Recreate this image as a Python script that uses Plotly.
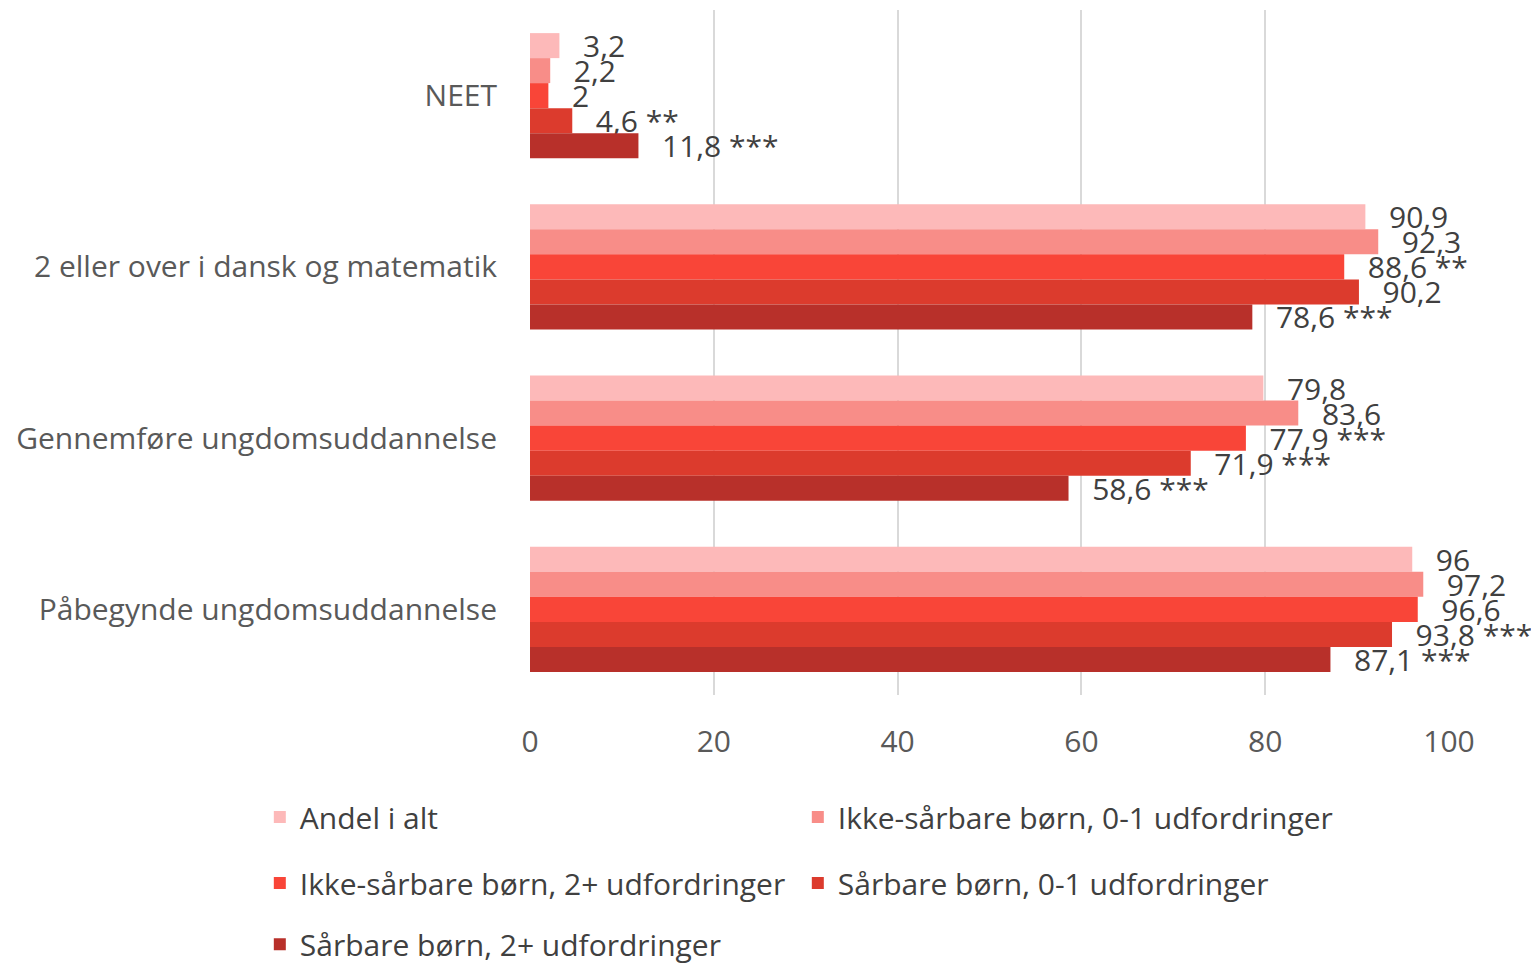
import plotly.graph_objects as go

categories = ["NEET", "2 eller over i dansk og matematik", "Gennemføre ungdomsuddannelse", "Påbegynde ungdomsuddannelse"]
series_names = ["Andel i alt", "Ikke-sårbare børn, 0-1 udfordringer", "Ikke-sårbare børn, 2+ udfordringer",
                "Sårbare børn, 0-1 udfordringer", "Sårbare børn, 2+ udfordringer"]
values = [
    [3.2, 90.9, 79.8, 96.0],
    [2.2, 92.3, 83.6, 97.2],
    [2.0, 88.6, 77.9, 96.6],
    [4.6, 90.2, 71.9, 93.8],
    [11.8, 78.6, 58.6, 87.1],
]
stars = [
    ["", "", "", ""],
    ["", "", "", ""],
    ["", "**", "***", ""],
    ["**", "", "***", "***"],
    ["***", "***", "***", "***"],
]
colors = ["#FDB9B9", "#F88D88", "#F94538", "#DC3B2D", "#B8302A"]
legend_ids = ["legend", "legend", "legend2", "legend2", "legend3"]

FONT = "Open Sans"
fig = go.Figure()
for i, name in enumerate(series_names):
    labels = []
    for v, s in zip(values[i], stars[i]):
        t = f"{v:g}".replace(".", ",")
        if s:
            t += " " + s
        labels.append("\u00a0\u00a0\u2006" + t)
    fig.add_trace(go.Bar(
        y=categories, x=values[i], name=name, orientation="h",
        marker=dict(color=colors[i], line=dict(width=0)),
        text=labels, textposition="outside", constraintext="none",
        cliponaxis=False, textfont=dict(family=FONT, size=30, color="#404040"),
        legend=legend_ids[i],
    ))

leg_common = dict(orientation="h", xanchor="left", yanchor="middle", x=-0.294,
                  font=dict(family=FONT, size=30, color="#404040"),
                  entrywidth=493, entrywidthmode="pixels", bgcolor="rgba(0,0,0,0)",
                  itemwidth=30, tracegroupgap=0)
fig.update_layout(
    width=1539, height=963,
    margin=dict(l=522, r=98, t=2, b=276, autoexpand=False),
    plot_bgcolor="white", paper_bgcolor="white",
    barmode="group", bargap=0.27, bargroupgap=0,
    showlegend=True,
    legend=dict(**leg_common, y=-0.178),
    legend2=dict(**leg_common, y=-0.2745),
    legend3=dict(**leg_common, y=-0.364),
    xaxis=dict(range=[0, 100], dtick=20, showgrid=True, gridcolor="#D9D9D9", gridwidth=2,
               zeroline=False, showline=False, ticks="", ticklabelstandoff=26,
               tickfont=dict(family=FONT, size=30, color="#595959")),
    yaxis=dict(autorange="reversed", showgrid=False, showline=False, ticks="",
               ticklabelstandoff=32, tickfont=dict(family=FONT, size=30, color="#595959")),
    font=dict(family=FONT),
)
fig.write_html("out.html")
